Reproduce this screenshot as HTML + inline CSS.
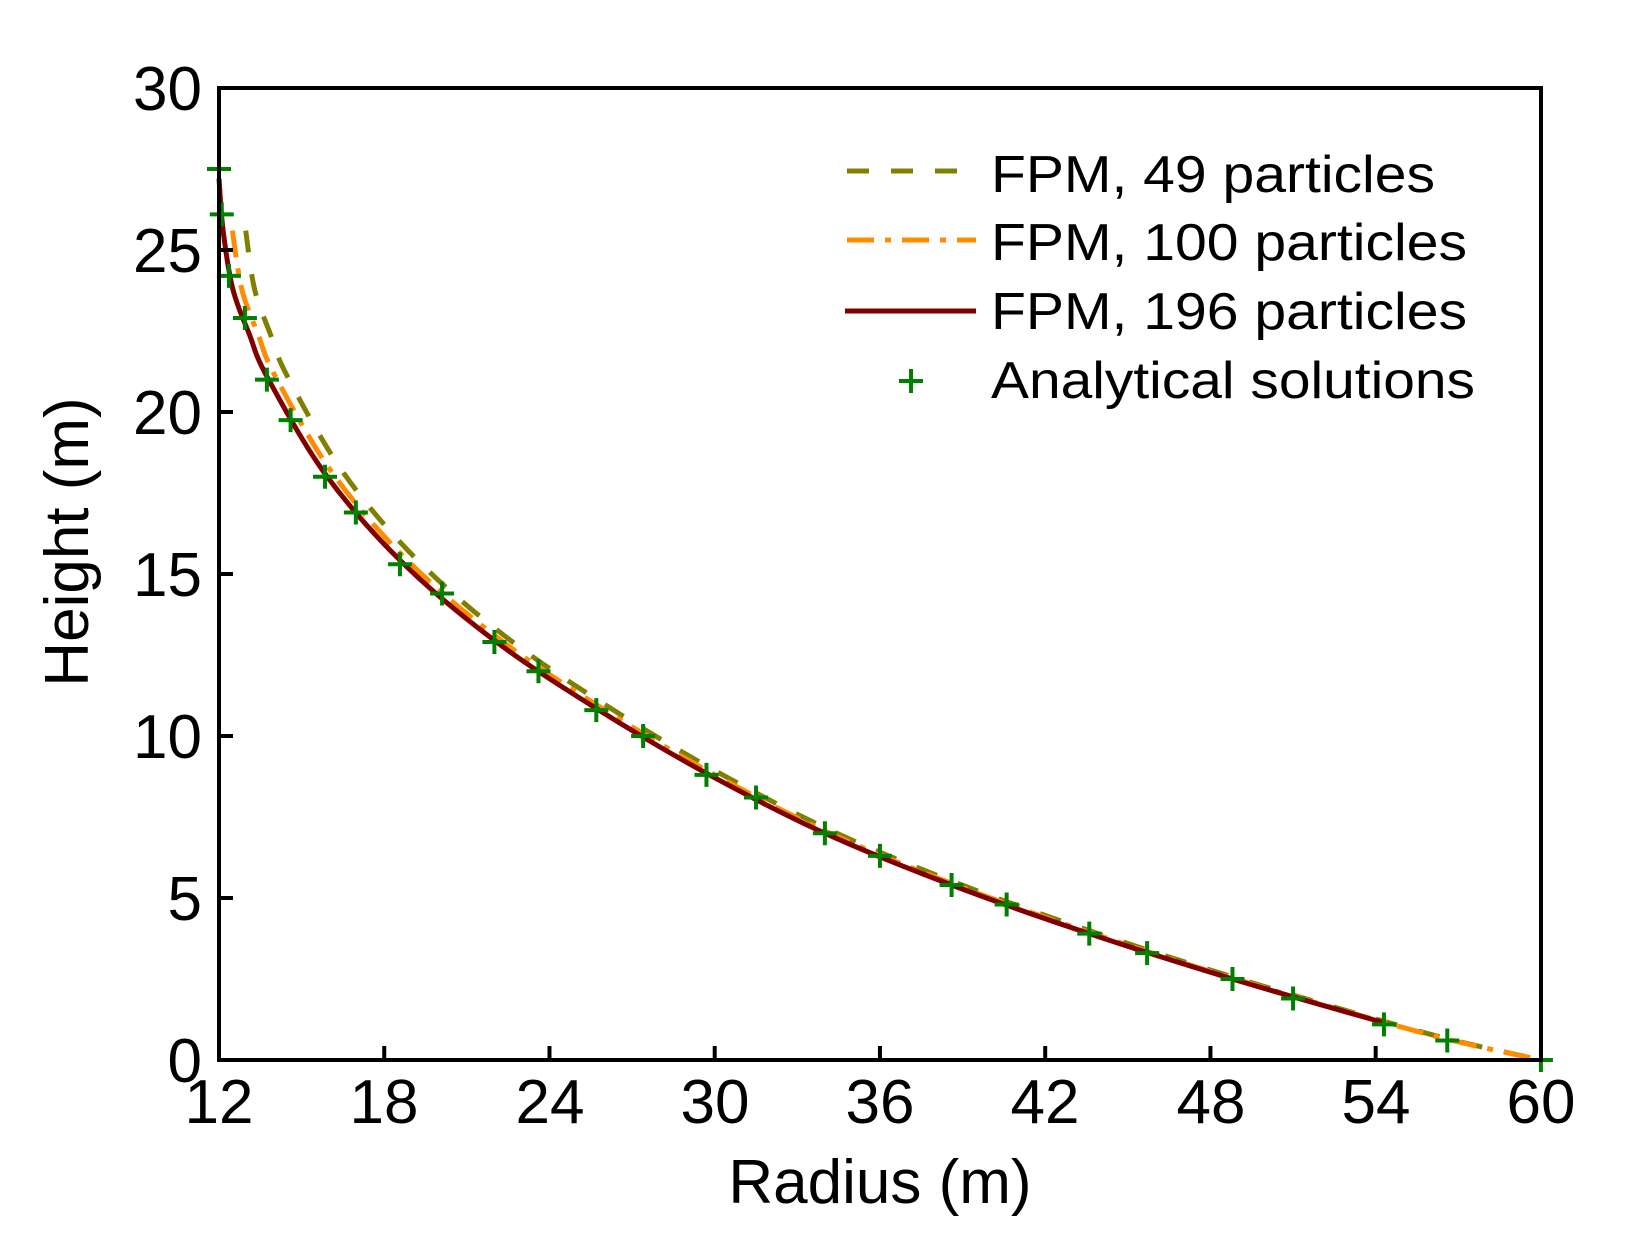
<!DOCTYPE html>
<html><head><meta charset="utf-8"><style>
html,body{margin:0;padding:0;background:#fff;}
svg{display:block;}
text{font-family:"Liberation Sans",Arial,sans-serif;fill:#000;}
</style></head><body>
<svg id="s" width="1632" height="1248" viewBox="0 0 1632 1248" xmlns="http://www.w3.org/2000/svg">
<rect width="1632" height="1248" fill="#fff"/>
<g id="curves"></g>
<g id="marks"></g>
<rect x="219" y="88" width="1322" height="972" fill="none" stroke="#000" stroke-width="4"/>
<g id="ticks" stroke="#000" stroke-width="4"></g>
<g font-size="62" text-anchor="middle">
<text x="219" y="1123">12</text><text x="384" y="1123">18</text><text x="550" y="1123">24</text>
<text x="715" y="1123">30</text><text x="880" y="1123">36</text><text x="1045" y="1123">42</text>
<text x="1211" y="1123">48</text><text x="1376" y="1123">54</text><text x="1541" y="1123">60</text>
</g>
<g font-size="62" text-anchor="end">
<text x="202" y="1082">0</text><text x="202" y="920">5</text><text x="202" y="758">10</text>
<text x="202" y="596">15</text><text x="202" y="434">20</text><text x="202" y="272">25</text>
<text x="202" y="110">30</text>
</g>
<text x="880" y="1203" font-size="62" text-anchor="middle">Radius (m)</text>
<text transform="translate(88,542) rotate(-90)" font-size="62" text-anchor="middle">Height (m)</text>
<g font-size="52">
<line x1="847" y1="171" x2="976" y2="171" stroke="#808000" stroke-width="5" stroke-dasharray="22 22"/>
<text x="991" y="192" textLength="444" lengthAdjust="spacingAndGlyphs">FPM, 49 particles</text>
<line x1="847" y1="240" x2="976" y2="240" stroke="#ff8c00" stroke-width="5" stroke-dasharray="27 11 6 11"/>
<text x="991" y="260" textLength="476" lengthAdjust="spacingAndGlyphs">FPM, 100 particles</text>
<line x1="845" y1="311" x2="976" y2="311" stroke="#800000" stroke-width="5"/>
<text x="991" y="329" textLength="476" lengthAdjust="spacingAndGlyphs">FPM, 196 particles</text>
<path d="M899 381h24M911 369v24" stroke="#008000" stroke-width="4"/>
<text x="991" y="398" textLength="484" lengthAdjust="spacingAndGlyphs">Analytical solutions</text>
</g>
</svg>
<script>
var X=function(r){return 219+(r-12)*27.54;}, Y=function(h){return 1060-h*32.4;};
var pts=[[12,27.5],[12.1,26.1],[12.36,24.2],[12.94,22.9],[13.74,21.0],[14.6,19.75],[15.85,18.0],[16.97,16.9],[18.57,15.3],[20.1,14.4],[22.0,12.9],[23.6,12.0],[25.7,10.8],[27.4,10.0],[29.7,8.8],[31.5,8.1],[34.0,7.0],[36.0,6.3],[38.6,5.4],[40.6,4.8],[43.6,3.9],[45.7,3.3],[48.8,2.5],[51.0,1.9],[54.3,1.1],[56.6,0.6],[60,0]];
var knots=[[12,27.2],[12.15,25.6],[12.5,23.8],[13.1,22.4],[13.74,21.1],[15.85,18.1],[18.6,15.4],[22,12.95],[25.7,10.85],[29.7,8.85],[34,7.0],[38.6,5.4],[43.6,3.9],[48.8,2.5],[54.3,1.15],[57,0.55],[60,0]];
function path(p){var d="M"+p[0][0].toFixed(1)+" "+p[0][1].toFixed(1);
for(var i=0;i<p.length-1;i++){var p0=p[Math.max(i-1,0)],p1=p[i],p2=p[i+1],p3=p[Math.min(i+2,p.length-1)];
var c1=[p1[0]+(p2[0]-p0[0])/6,p1[1]+(p2[1]-p0[1])/6],c2=[p2[0]-(p3[0]-p1[0])/6,p2[1]-(p3[1]-p1[1])/6];
d+=" C"+c1[0].toFixed(1)+" "+c1[1].toFixed(1)+" "+c2[0].toFixed(1)+" "+c2[1].toFixed(1)+" "+p2[0].toFixed(1)+" "+p2[1].toFixed(1);}
return d;}
function series(k,top,end){var out=[];knots.forEach(function(p){if(p[0]>end+0.01)return;if(p[1]>top)return;var h=p[1];out.push([X(p[0]+k*Math.sqrt(h/27.5)),Y(h)]);});return out;}
var ns="http://www.w3.org/2000/svg",g=document.getElementById("curves");
function add(d,col,dash){var e=document.createElementNS(ns,"path");e.setAttribute("d",d);e.setAttribute("fill","none");e.setAttribute("stroke",col);e.setAttribute("stroke-width","5");if(dash)e.setAttribute("stroke-dasharray",dash);g.appendChild(e);}
add(path(series(0.85,26.5,60)),"#808000","22 22");
add(path(series(0.35,27.0,60)),"#ff8c00","27 11 6 11");
add(path(series(0,27.3,54.3)),"#800000");
var m=document.getElementById("marks"),d="";
pts.forEach(function(p){var x=X(p[0]),y=Y(p[1]);d+="M"+(x-12)+" "+y+"h24M"+x+" "+(y-12)+"v24";});
var e=document.createElementNS(ns,"path");e.setAttribute("d",d);e.setAttribute("stroke","#008000");e.setAttribute("stroke-width","4");m.appendChild(e);
var t=document.getElementById("ticks"),td="";
for(var r=18;r<60;r+=6){var x=X(r);td+="M"+x+" 1060v-14";}
for(var h=5;h<30;h+=5){var y=Y(h);td+="M219 "+y+"h14";}
var te=document.createElementNS(ns,"path");te.setAttribute("d",td);t.appendChild(te);
</script>
</body></html>
